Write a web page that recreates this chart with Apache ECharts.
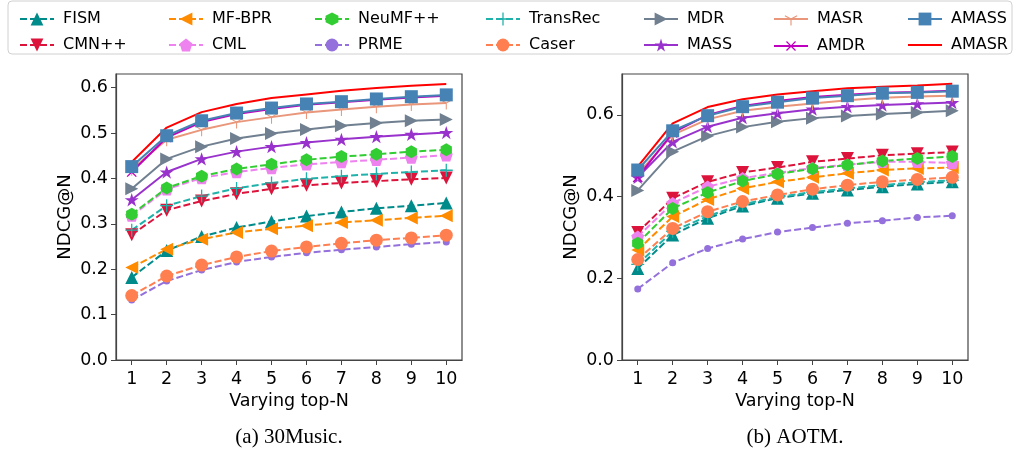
<!DOCTYPE html>
<html lang="en">
<head>
    <meta charset="utf-8">
    <title>NDCG@N</title>
    <script src="https://cdn.jsdelivr.net/npm/echarts@6/dist/echarts.min.js"></script>
</head>
<body style="margin:0;background:#fff">
<div id="main" style="width: 1017px;height:462px;"></div>
<script type="text/javascript">
    // top-N values on the x axis
    var topN = [1, 2, 3, 4, 5, 6, 7, 8, 9, 10];
    var yTicks30 = [0.0, 0.1, 0.2, 0.3, 0.4, 0.5, 0.6];
    var yTicksAotm = [0.0, 0.2, 0.4, 0.6];

    // 30Music
    var fism30     = [0.182, 0.241, 0.272, 0.292, 0.305, 0.317, 0.326, 0.334, 0.340, 0.346];
    var cmn30      = [0.276, 0.330, 0.350, 0.366, 0.377, 0.385, 0.390, 0.394, 0.398, 0.401];
    var mfbpr30    = [0.204, 0.244, 0.266, 0.281, 0.289, 0.296, 0.303, 0.308, 0.313, 0.318];
    var cml30      = [0.318, 0.376, 0.401, 0.414, 0.423, 0.431, 0.436, 0.441, 0.446, 0.451];
    var neumf30    = [0.321, 0.379, 0.405, 0.421, 0.431, 0.441, 0.448, 0.453, 0.459, 0.463];
    var prme30     = [0.132, 0.174, 0.198, 0.216, 0.227, 0.236, 0.243, 0.249, 0.255, 0.260];
    var transrec30 = [0.286, 0.340, 0.361, 0.378, 0.390, 0.399, 0.405, 0.410, 0.414, 0.418];
    var caser30    = [0.142, 0.185, 0.209, 0.227, 0.240, 0.249, 0.257, 0.264, 0.269, 0.275];
    var mdr30      = [0.377, 0.443, 0.470, 0.488, 0.499, 0.508, 0.516, 0.522, 0.527, 0.530];
    var mass30     = [0.353, 0.414, 0.443, 0.459, 0.470, 0.479, 0.486, 0.492, 0.497, 0.501];
    var masr30     = [0.420, 0.485, 0.507, 0.524, 0.535, 0.545, 0.552, 0.558, 0.563, 0.566];
    var amdr30     = [0.414, 0.490, 0.524, 0.542, 0.553, 0.562, 0.568, 0.573, 0.578, 0.582];
    var amass30    = [0.426, 0.494, 0.527, 0.544, 0.555, 0.564, 0.569, 0.575, 0.580, 0.584];
    var amasr30    = [0.436, 0.512, 0.546, 0.564, 0.577, 0.585, 0.593, 0.599, 0.604, 0.608];

    // AOTM
    var fismA      = [0.224, 0.306, 0.347, 0.377, 0.396, 0.408, 0.416, 0.424, 0.431, 0.436];
    var cmnA       = [0.312, 0.396, 0.436, 0.459, 0.471, 0.485, 0.493, 0.501, 0.505, 0.509];
    var mfbprA     = [0.269, 0.351, 0.393, 0.420, 0.436, 0.447, 0.457, 0.465, 0.469, 0.471];
    var cmlA       = [0.302, 0.384, 0.424, 0.445, 0.458, 0.470, 0.478, 0.485, 0.485, 0.482];
    var neumfA     = [0.286, 0.371, 0.410, 0.438, 0.455, 0.468, 0.477, 0.487, 0.493, 0.498];
    var prmeA      = [0.174, 0.238, 0.273, 0.296, 0.313, 0.324, 0.335, 0.341, 0.349, 0.353];
    var transrecA  = [0.234, 0.315, 0.352, 0.381, 0.399, 0.411, 0.420, 0.428, 0.435, 0.440];
    var caserA     = [0.246, 0.322, 0.363, 0.388, 0.404, 0.418, 0.428, 0.436, 0.442, 0.447];
    var mdrA       = [0.415, 0.510, 0.548, 0.570, 0.583, 0.592, 0.597, 0.602, 0.606, 0.610];
    var massA      = [0.447, 0.534, 0.571, 0.593, 0.604, 0.614, 0.620, 0.624, 0.627, 0.630];
    var masrA      = [0.455, 0.551, 0.589, 0.610, 0.620, 0.628, 0.636, 0.642, 0.645, 0.647];
    var amdrA      = [0.447, 0.556, 0.600, 0.622, 0.634, 0.644, 0.649, 0.654, 0.656, 0.659];
    var amassA     = [0.465, 0.561, 0.598, 0.620, 0.631, 0.641, 0.647, 0.653, 0.655, 0.658];
    var amasrA     = [0.473, 0.579, 0.619, 0.638, 0.650, 0.658, 0.665, 0.669, 0.672, 0.676];

    // marker shapes (matplotlib-like)
    var STAR = 'path://M100,0 L122.45,69.1 L195.1,69.1 L136.3,111.8 L158.8,180.9 L100,138.2 L41.2,180.9 L63.7,111.8 L4.9,69.1 L77.55,69.1 Z';
    var HEX = 'path://M50,0 L93.3,25 L93.3,75 L50,100 L6.7,75 L6.7,25 Z';
    var PENT = 'path://M100,0 L195.1,69.1 L158.8,180.9 L41.2,180.9 L4.9,69.1 Z';
    var PLUS = 'path://M45,0 L55,0 L55,45 L100,45 L100,55 L55,55 L55,100 L45,100 L45,55 L0,55 L0,45 L45,45 Z';
    var TRI1 = 'path://M46,50 L54,50 L54,100 L46,100 Z M52,46.54 L8.7,21.54 L4.7,28.46 L48,53.46 Z M48,46.54 L91.3,21.54 L95.3,28.46 L52,53.46 Z M49.9,0 L50.1,0 L50,0.1 Z';
    // plain line for the AMASR legend entry (no marker)
    var LINE_ONLY = 'path://M0,0 L0.01,0 L0,0.01 Z M0,7 L34,7 L34,9 L0,9 Z M0,16 L0.01,16 L0,15.99 Z';

    var methods = [
        {name: 'FISM',     c: '#008B8B', sym: 'triangle', size: 13, rot: 0,   dash: true,  d1: fism30,     d2: fismA},
        {name: 'CMN++',    c: '#DC143C', sym: 'triangle', size: 13, rot: 180, dash: true,  d1: cmn30,      d2: cmnA},
        {name: 'MF-BPR',   c: '#FF8C00', sym: 'triangle', size: 13, rot: 90,  dash: true,  d1: mfbpr30,    d2: mfbprA},
        {name: 'CML',      c: '#EE82EE', sym: PENT,       size: 13, rot: 0,   dash: true,  d1: cml30,      d2: cmlA},
        {name: 'NeuMF++',  c: '#32CD32', sym: HEX,        size: 13, rot: 0,   dash: true,  d1: neumf30,    d2: neumfA},
        {name: 'PRME',     c: '#9370DB', sym: 'circle',   size: 7,  rot: 0,   dash: true,  d1: prme30,     d2: prmeA},
        {name: 'TransRec', c: '#20B2AA', sym: PLUS,       size: 13, rot: 0,   dash: true,  d1: transrec30, d2: transrecA},
        {name: 'Caser',    c: '#FF7F50', sym: 'circle',   size: 13, rot: 0,   dash: true,  d1: caser30,    d2: caserA},
        {name: 'MDR',      c: '#708090', sym: 'triangle', size: 13, rot: -90, dash: false, d1: mdr30,      d2: mdrA},
        {name: 'MASS',     c: '#9932CC', sym: STAR,       size: 14, rot: 0,   dash: false, d1: mass30,     d2: massA},
        {name: 'MASR',     c: '#E9967A', sym: TRI1,       size: 13, rot: 0,   dash: false, d1: masr30,     d2: masrA},
        {name: 'AMDR',     c: '#BF00BF', sym: PLUS,       size: 13, rot: 45,  dash: false, d1: amdr30,     d2: amdrA},
        {name: 'AMASS',    c: '#4682B4', sym: 'rect',     size: 13, rot: 0,   dash: false, d1: amass30,    d2: amassA},
        {name: 'AMASR',    c: '#FF0000', sym: 'none',     size: 0,  rot: 0,   dash: false, d1: amasr30,    d2: amasrA}
    ];

    var series = [];
    [0, 1].forEach(function (k) {
        methods.forEach(function (m) {
            var vals = k === 0 ? m.d1 : m.d2;
            series.push({
                name: m.name,
                type: 'line',
                xAxisIndex: k,
                yAxisIndex: k,
                data: topN.map(function (n, i) { return [n, vals[i]]; }),
                symbol: m.sym,
                symbolSize: m.size,
                symbolRotate: m.rot,
                symbolKeepAspect: true,
                showAllSymbol: true,
                color: m.c,
                itemStyle: {color: m.c, borderWidth: 0},
                lineStyle: {color: m.c, width: 2, type: m.dash ? [7, 3] : 'solid'},
                emphasis: {disabled: true},
                animation: false
            });
        });
    });

    var font = 'DejaVu Sans';
    var legendCols = [['FISM', 'CMN++'], ['MF-BPR', 'CML'], ['NeuMF++', 'PRME'], ['TransRec', 'Caser'],
        ['MDR', 'MASS'], ['MASR', 'AMDR'], ['AMASS', 'AMASR']];
    var legendLeft = [14, 163, 309, 480, 638, 768, 902];
    var legends = legendCols.map(function (col, i) {
        return {
            orient: 'vertical',
            left: legendLeft[i],
            top: 6,
            itemWidth: 34,
            itemHeight: 16,
            itemGap: 10,
            selectedMode: false,
            data: col.map(function (nm) {
                return nm === 'AMASR' ? {name: nm, icon: LINE_ONLY} : nm;
            }),
            textStyle: {fontFamily: font, fontSize: 16, color: '#000', padding: [0, 0, 0, 4]}
        };
    });

    function xAxis(k) {
        return {
            type: 'value', gridIndex: k, min: 0.55, max: 10.45,
            name: 'Varying top-N', nameLocation: 'middle', nameGap: 27,
            nameTextStyle: {fontFamily: font, fontSize: 17.5, color: '#000'},
            axisLine: {lineStyle: {color: '#444', width: 1.2}},
            axisTick: {customValues: topN, length: 5, lineStyle: {color: '#444'}},
            axisLabel: {customValues: topN, fontFamily: font, fontSize: 17.5, color: '#000', margin: 10},
            splitLine: {show: false}
        };
    }
    function yAxis(k, max, ticks) {
        return {
            type: 'value', gridIndex: k, min: 0, max: max,
            name: 'NDCG@N', nameLocation: 'middle', nameGap: 42,
            nameTextStyle: {fontFamily: font, fontSize: 18, color: '#000'},
            axisLine: {show: true, lineStyle: {color: '#444', width: 1.2}},
            axisTick: {show: true, customValues: ticks, length: 5, lineStyle: {color: '#444'}},
            axisLabel: {customValues: ticks, fontFamily: font, fontSize: 17.5, color: '#000', margin: 8,
                formatter: function (v) { return v.toFixed(1); }},
            splitLine: {show: false}
        };
    }

    var captionStyle = {fontFamily: 'Liberation Serif', fontSize: 21, fill: '#000',
        textAlign: 'center', textVerticalAlign: 'middle'};

    var myChart = echarts.init(document.getElementById('main'));
    myChart.setOption({
        animation: false,
        grid: [
            {left: 116, top: 74, width: 346, height: 286, show: true, borderColor: '#444', borderWidth: 1.2},
            {left: 622, top: 74, width: 346, height: 286, show: true, borderColor: '#444', borderWidth: 1.2}
        ],
        legend: legends,
        xAxis: [xAxis(0), xAxis(1)],
        yAxis: [yAxis(0, 0.63, yTicks30), yAxis(1, 0.70, yTicksAotm)],
        graphic: [
            {type: 'rect', shape: {x: 8, y: 1, width: 1004, height: 53, r: 4},
                style: {fill: 'none', stroke: '#d0d0d0', lineWidth: 1}, z: -1},
            {type: 'text', x: 289, y: 437, style: Object.assign({text: '(a) 30Music.'}, captionStyle)},
            {type: 'text', x: 795, y: 437, style: Object.assign({text: '(b) AOTM.'}, captionStyle)}
        ],
        series: series
    });
</script>
</body>
</html>
